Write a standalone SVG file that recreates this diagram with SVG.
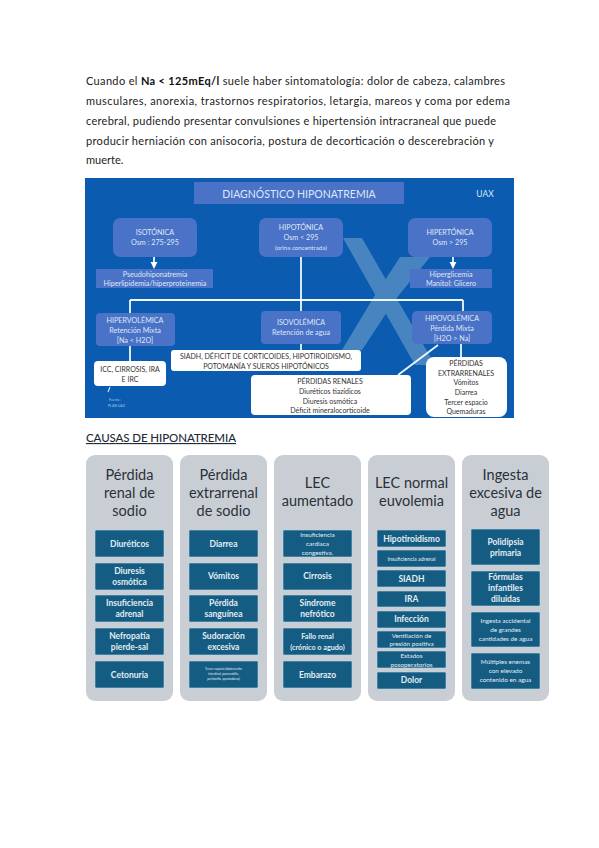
<svg xmlns="http://www.w3.org/2000/svg" width="599" height="848" viewBox="0 0 599 848">
<style>
text{font-family:"Lato","Liberation Sans",sans-serif}
.body{font-size:11px;fill:#222}
.h{font-size:11.5px;fill:#1f2a38;text-decoration:underline;font-weight:500}
.bl{fill:#4a72c6}
.wb{fill:#fff}
.bt{font-size:7.2px;fill:#dfe8f6;text-anchor:middle}
.wt{font-size:7px;fill:#333;text-anchor:middle}
.ln{stroke:#eef8fd;stroke-width:1.8;fill:none}
.pn{fill:#c9ced5}
.pt{font-size:14.5px;fill:#2b3138;text-anchor:middle}
.bx{fill:#155c82;stroke:#bcd9e8;stroke-width:.6}
.bx2{font-size:8.5px;font-weight:700;fill:#e3edf3;text-anchor:middle}
.s7{font-size:7.2px}.s6{font-size:6.4px;font-weight:400}.s5{font-size:5.4px;font-weight:400}.s3{font-size:3.1px;font-weight:400}
</style>
<defs><marker id="a" markerWidth="4" markerHeight="4" refX="2.4" refY="2" orient="auto"><path d="M0 0L4 2L0 4Z" fill="#fff"/></marker></defs>
<rect width="599" height="848" fill="#fff"/>
<g id="intro">
<text class="body" x="86" y="85" textLength="419">Cuando el <tspan font-weight="700" fill="#111">Na &lt; 125mEq/l</tspan> suele haber sintomatología: dolor de cabeza, calambres</text>
<text class="body" x="86" y="105" textLength="424">musculares, anorexia, trastornos respiratorios, letargia, mareos y coma por edema</text>
<text class="body" x="86" y="125" textLength="410">cerebral, pudiendo presentar convulsiones e hipertensión intracraneal que puede</text>
<text class="body" x="86" y="145" textLength="408">producir herniación con anisocoria, postura de decorticación o descerebración y</text>
<text class="body" x="86" y="164">muerte.</text>
</g>
<g id="slide-bg">
<rect x="85" y="178" width="429" height="240" fill="#0b5bb0"/>
<polygon points="343,238 362,238 435,365 415,365" fill="#4784c0"/>
<polygon points="400,257 430,257 395,300 362,350 342,350 372,300" fill="#4784c0"/>
</g>
<g id="title"><rect class="bl" x="194" y="182" width="210" height="22"/><text x="299" y="198" font-size="10.5" fill="#dfe8f6" text-anchor="middle">DIAGNÓSTICO HIPONATREMIA</text><text x="485" y="197" font-size="8.5" fill="#dfe8f6" text-anchor="middle">UAX</text></g>
<g id="connectors">
<path class="ln" d="M301 257V311M130 300H463M130 300V313M463 300V311M130 346V361M301 344V350M461 344V357M438 345L398 375"/>
<path class="ln" marker-end="url(#a)" d="M154 257V266"/>
<path class="ln" marker-end="url(#a)" d="M453 257V266"/>
<path d="M110 387L108 392" stroke="#cfe0f2" stroke-width="1.2"/>
</g>
<g id="isotonica"><rect class="bl" x="113" y="218" width="84" height="39" rx="7"/><text class="bt" x="155" y="235">ISOTÓNICA</text><text class="bt" x="155" y="245">Osm : 275-295</text></g>
<g id="hipotonica"><rect class="bl" x="259" y="218" width="84" height="39" rx="7"/><text class="bt" x="301" y="230">HIPOTÓNICA</text><text class="bt" x="301" y="240">Osm &lt; 295</text><text class="bt" font-size="6.2" style="font-size:6.2px" x="301" y="250">(orina concentrada)</text></g>
<g id="hipertonica"><rect class="bl" x="408" y="218" width="84" height="39" rx="7"/><text class="bt" x="450" y="235">HIPERTÓNICA</text><text class="bt" x="450" y="245">Osm &gt; 295</text></g>
<g id="pseudo"><rect class="bl" x="96" y="269" width="117" height="19"/><text class="bt" x="155" y="277">Pseudohiponatremia</text><text class="bt" x="155" y="286">Hiperlipidemia/hiperproteinemia</text></g>
<g id="hiperglicemia"><rect class="bl" x="410" y="269" width="82" height="19"/><text class="bt" x="451" y="277">Hiperglicemia</text><text class="bt" x="451" y="286">Manitol: Glicero</text></g>
<g id="hipervolemica"><rect class="bl" x="96" y="313" width="79" height="33" rx="4"/><text class="bt" x="135" y="323">HIPERVOLÉMICA</text><text class="bt" x="135" y="333">Retención Mixta</text><text class="bt" x="135" y="343">[Na &lt; H2O]</text></g>
<g id="isovolemica"><rect class="bl" x="261" y="311" width="80" height="33" rx="4"/><text class="bt" x="301" y="325">ISOVOLÉMICA</text><text class="bt" x="301" y="335">Retención de agua</text></g>
<g id="hipovolemica"><rect class="bl" x="412" y="311" width="80" height="33" rx="5"/><text class="bt" x="452" y="321">HIPOVOLÉMICA</text><text class="bt" x="452" y="331">Pérdida Mixta</text><text class="bt" x="452" y="341">[H2O &gt; Na]</text></g>
<g id="ic"><rect class="wb" x="94" y="361" width="72" height="25" rx="4"/><text class="wt" x="130" y="372">ICC, CIRROSIS, IRA</text><text class="wt" x="130" y="382">E IRC</text></g>
<g id="siadh"><rect class="wb" x="171" y="350" width="190" height="21" rx="3"/><text class="wt" x="266" y="359">SIADH, DÉFICIT DE CORTICOIDES, HIPOTIROIDISMO,</text><text class="wt" x="266" y="369">POTOMANÍA Y SUEROS HIPOTÓNICOS</text></g>
<g id="renales"><rect class="wb" x="251" y="375" width="160" height="40" rx="4"/><text class="wt" x="330" y="384">PÉRDIDAS RENALES</text><text class="wt" x="330" y="394">Diuréticos tiazídicos</text><text class="wt" x="330" y="404">Diuresis osmótica</text><text class="wt" x="330" y="413">Déficit mineralocorticoide</text></g>
<g id="extrarrenales"><rect class="wb" x="426" y="357" width="81" height="60" rx="8"/><text class="wt" x="466" y="366">PÉRDIDAS</text><text class="wt" x="466" y="376">EXTRARRENALES</text><text class="wt" x="466" y="385">Vómitos</text><text class="wt" x="466" y="395">Diarrea</text><text class="wt" x="466" y="405">Tercer espacio</text><text class="wt" x="466" y="414">Quemaduras</text></g>
<g id="fuente"><text x="109" y="401" font-size="3.5" fill="#a8c4e6">Fuente:</text><text x="108" y="407" font-size="3.5" fill="#a8c4e6">PLAN UAX</text></g>
<text class="h" x="86" y="442" textLength="150">CAUSAS DE HIPONATREMIA</text>
<g id="col1"><rect class="pn" x="86" y="455" width="87" height="246" rx="9"/>
<text class="pt" x="129.500" y="480">Pérdida</text><text class="pt" x="129.500" y="498">renal de</text><text class="pt" x="129.500" y="516">sodio</text>
<rect class="bx" x="95" y="530" width="69" height="27" rx="1"/><text class="bx2" x="129.500" y="547">Diuréticos</text>
<rect class="bx" x="95" y="563" width="69" height="27" rx="1"/><text class="bx2" x="129.500" y="574">Diuresis</text><text class="bx2" x="129.500" y="585">osmótica</text>
<rect class="bx" x="95" y="595" width="69" height="27" rx="1"/><text class="bx2" x="129.500" y="606">Insuficiencia</text><text class="bx2" x="129.500" y="617">adrenal</text>
<rect class="bx" x="95" y="628" width="69" height="27" rx="1"/><text class="bx2" x="129.500" y="639">Nefropatía</text><text class="bx2" x="129.500" y="650">pierde-sal</text>
<rect class="bx" x="95" y="661" width="69" height="27" rx="1"/><text class="bx2" x="129.500" y="678">Cetonuria</text></g>
<g id="col2"><rect class="pn" x="180" y="455" width="87" height="246" rx="9"/>
<text class="pt" x="223.500" y="480">Pérdida</text><text class="pt" x="223.500" y="498">extrarrenal</text><text class="pt" x="223.500" y="516">de sodio</text>
<rect class="bx" x="189" y="530" width="69" height="27" rx="1"/><text class="bx2" x="223.500" y="547">Diarrea</text>
<rect class="bx" x="189" y="563" width="69" height="27" rx="1"/><text class="bx2" x="223.500" y="579">Vómitos</text>
<rect class="bx" x="189" y="595" width="69" height="27" rx="1"/><text class="bx2" x="223.500" y="606">Pérdida</text><text class="bx2" x="223.500" y="617">sanguínea</text>
<rect class="bx" x="189" y="628" width="69" height="27" rx="1"/><text class="bx2" x="223.500" y="639">Sudoración</text><text class="bx2" x="223.500" y="650">excesiva</text>
<rect class="bx" x="189" y="661" width="69" height="27" rx="1"/><text class="bx2 s3" x="223.500" y="670">Tercer espacio (obstrucción</text><text class="bx2 s3" x="223.500" y="675">intestinal, pancreatitis,</text><text class="bx2 s3" x="223.500" y="680">peritonitis, quemaduras)</text></g>
<g id="col3"><rect class="pn" x="274" y="455" width="87" height="246" rx="9"/>
<text class="pt" x="317.500" y="488">LEC</text><text class="pt" x="317.500" y="506">aumentado</text>
<rect class="bx" x="283" y="530" width="69" height="27" rx="1"/><text class="bx2 s6" x="317.500" y="537">Insuficiencia</text><text class="bx2 s6" x="317.500" y="546">cardiaca</text><text class="bx2 s6" x="317.500" y="555">congestiva.</text>
<rect class="bx" x="283" y="563" width="69" height="27" rx="1"/><text class="bx2" x="317.500" y="579">Cirrosis</text>
<rect class="bx" x="283" y="595" width="69" height="27" rx="1"/><text class="bx2" x="317.500" y="606">Síndrome</text><text class="bx2" x="317.500" y="617">nefrótico</text>
<rect class="bx" x="283" y="628" width="69" height="27" rx="1"/><text class="bx2 s7" x="317.500" y="639">Fallo renal</text><text class="bx2 s7" x="317.500" y="650">(crónico o agudo)</text>
<rect class="bx" x="283" y="661" width="69" height="27" rx="1"/><text class="bx2" x="317.500" y="678">Embarazo</text></g>
<g id="col4"><rect class="pn" x="368" y="455" width="87" height="246" rx="9"/>
<text class="pt" x="411.500" y="488">LEC normal</text><text class="pt" x="411.500" y="506">euvolemia</text>
<rect class="bx" x="377" y="530" width="69" height="17" rx="1"/><text class="bx2" x="411.500" y="541.500">Hipotiroidismo</text>
<rect class="bx" x="377" y="550" width="69" height="17" rx="1"/><text class="bx2 s5" x="411.500" y="561">Insuficiencia adrenal</text>
<rect class="bx" x="377" y="570" width="69" height="17" rx="1"/><text class="bx2" x="411.500" y="582">SIADH</text>
<rect class="bx" x="377" y="591" width="69" height="16" rx="1"/><text class="bx2" x="411.500" y="602">IRA</text>
<rect class="bx" x="377" y="611" width="69" height="17" rx="1"/><text class="bx2" x="411.500" y="622">Infección</text>
<rect class="bx" x="377" y="631" width="69" height="17" rx="1"/><text class="bx2 s6" x="411.500" y="637.500">Ventilación de</text><text class="bx2 s6" x="411.500" y="646">presión positiva</text>
<rect class="bx" x="377" y="651" width="69" height="17" rx="1"/><text class="bx2 s6" x="411.500" y="657.500">Estados</text><text class="bx2 s6" x="411.500" y="666.500">posoperatorios</text>
<rect class="bx" x="377" y="672" width="69" height="17" rx="1"/><text class="bx2" x="411.500" y="683">Dolor</text></g>
<g id="col5"><rect class="pn" x="462" y="455" width="87" height="246" rx="9"/>
<text class="pt" x="505.500" y="480">Ingesta</text><text class="pt" x="505.500" y="498">excesiva de</text><text class="pt" x="505.500" y="516">agua</text>
<rect class="bx" x="471" y="529" width="69" height="36" rx="1"/><text class="bx2" x="505.500" y="545">Polidipsia</text><text class="bx2" x="505.500" y="556">primaria</text>
<rect class="bx" x="471" y="571" width="69" height="35" rx="1"/><text class="bx2" x="505.500" y="580">Fórmulas</text><text class="bx2" x="505.500" y="591">infantiles</text><text class="bx2" x="505.500" y="602">diluidas</text>
<rect class="bx" x="471" y="612" width="69" height="35" rx="1"/><text class="bx2 s6" x="505.500" y="623">Ingesta accidental</text><text class="bx2 s6" x="505.500" y="632">de grandes</text><text class="bx2 s6" x="505.500" y="641">cantidades de agua</text>
<rect class="bx" x="471" y="653" width="69" height="36" rx="1"/><text class="bx2 s6" x="505.500" y="664">Múltiples enemas</text><text class="bx2 s6" x="505.500" y="673">con elevado</text><text class="bx2 s6" x="505.500" y="682">contenido en agua</text></g>
</svg>
